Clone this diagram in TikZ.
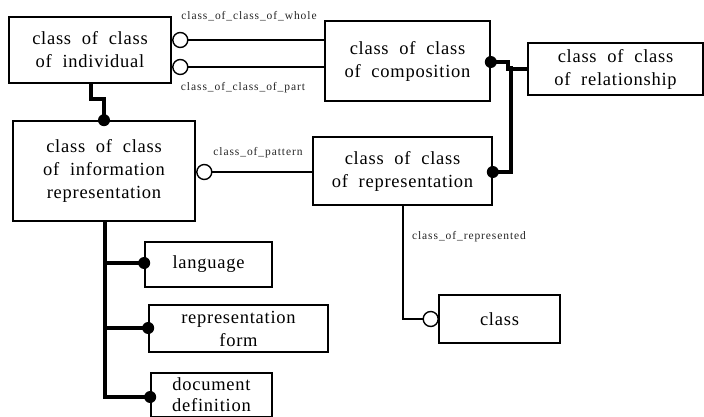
\documentclass[tikz,border=0pt]{standalone}
\usepackage{fontspec}
\setmainfont{Liberation Serif}
\begin{document}
\begin{tikzpicture}[x=1pt,y=-1pt,
  box/.style={draw,line width=1.6pt,inner sep=0pt,align=center,font=\fontsize{18.5}{23}\selectfont\addfontfeature{LetterSpace=4}},
  conn/.style={line width=1.4pt},
  heavy/.style={line width=4.5pt},
  lbl/.style={font=\fontsize{11.5}{12}\selectfont\addfontfeature{LetterSpace=8},inner sep=0pt,text=black!85},
  odot/.style={line width=1.4pt,fill=white},
  fdot/.style={fill=black}]
\clip (0,0) rectangle (704,417);
\useasboundingbox (0,0) rectangle (704,417);
% boxes
\node[box,minimum width=162,minimum height=66] (ind) at (90,50) {class\ \ of\ \ class\\of\ \ individual};
\node[box,minimum width=165,minimum height=80] (comp) at (407.5,61) {class\ \ of\ \ class\\of\ \ composition};
\node[box,minimum width=175,minimum height=52] (rel) at (615.5,69) {class\ \ of\ \ class\\of\ \ relationship};
\node[box,minimum width=182,minimum height=100] (info) at (104,171) {class\ \ of\ \ class\\of\ \ information\\representation};
\node[box,minimum width=179,minimum height=68] (rep) at (402.5,171) {class\ \ of\ \ class\\of\ \ representation};
\node[box,minimum width=121,minimum height=48] (cls) at (499.5,319) {class};
\node[box,minimum width=127,minimum height=45] (lang) at (208.5,264.5) {language};
\node[box,minimum width=179,minimum height=47] (rform) at (238.5,328.5) {representation\\form};
\node[box,minimum width=121,minimum height=44,font=\fontsize{18.5}{21}\selectfont\addfontfeature{LetterSpace=4}] (ddef) at (211.5,395) {document\\definition};
% ind -- comp
\coordinate (w1) at (ind.east |- 0,40);
\coordinate (p1) at (ind.east |- 0,67);
\draw[conn] ([xshift=15]w1) -- (comp.west |- w1);
\draw[conn] ([xshift=15]p1) -- (comp.west |- p1);
\draw[odot] ([xshift=8.5]w1) circle (7.5);
\draw[odot] ([xshift=8.5]p1) circle (7.5);
\node[lbl] (lw) at (249,16) {class\_of\_class\_of\_whole};
\node[lbl] (lp) at (243,88) {class\_of\_class\_of\_part};
% ind -- info
\draw[heavy] (ind.south -| 91,0) -- (91,99) -- (104,99) -- (info.north);
\fill[fdot] (info.north) circle (6);
% comp -- rel, rep -- rel
\draw[heavy] (comp.east |- 0,62) -- (508,62) -- (508,69) -- (rel.west |- 0,69);
\draw[heavy] (rep.east |- 0,172) -- (511,172) -- (511,66);
\fill[fdot] (comp.east |- 0,62) circle (6);
\fill[fdot] (rep.east |- 0,172) circle (6);
% info -- rep
\coordinate (pt) at (info.east |- 0,172);
\draw[conn] ([xshift=15]pt) -- (rep.west |- pt);
\draw[odot] ([xshift=8.5]pt) circle (7.5);
\node[lbl] (lpt) at (258,153) {class\_of\_pattern};
% rep -- class
\coordinate (rc) at (cls.west |- 0,319);
\draw[conn] (rep.south -| 403,0) |- ([xshift=-15]rc);
\draw[odot] ([xshift=-7.5]rc) circle (7.5);
\node[lbl] (lr) at (469,237) {class\_of\_represented};
% info -- children
\draw[heavy] (info.south -| 105,0) -- (105,397) -- (ddef.west |- 0,397);
\draw[heavy] (105,263) -- (lang.west |- 0,263);
\draw[heavy] (105,328) -- (rform.west |- 0,328);
\fill[fdot] (lang.west |- 0,263) circle (6);
\fill[fdot] (rform.west |- 0,328) circle (6);
\fill[fdot] (ddef.west |- 0,397) circle (6);
\end{tikzpicture}
\end{document}
